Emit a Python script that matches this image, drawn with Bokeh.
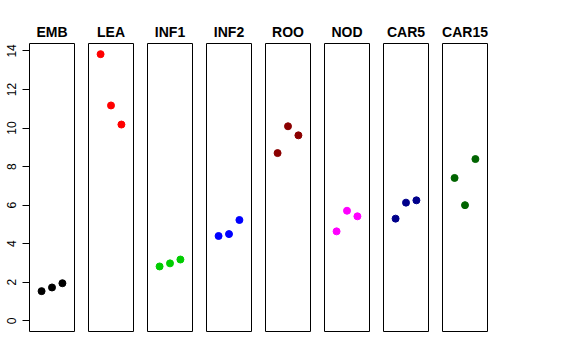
from bokeh.plotting import figure
from bokeh.layouts import row
from bokeh.models import Range1d, FixedTicker
from bokeh.embed import file_html
from bokeh.resources import INLINE

panels = ["EMB", "LEA", "INF1", "INF2", "ROO", "NOD", "CAR5", "CAR15"]
colors = ["#000000", "#FF0000", "#00CD00", "#0000FF", "#8B0000", "#FF00FF", "#00008B", "#006400"]
reps = [1, 2, 3]
emb = [1.54, 1.73, 1.95]
lea = [13.83, 11.17, 10.18]
inf1 = [2.82, 2.98, 3.18]
inf2 = [4.40, 4.50, 5.23]
roo = [8.70, 10.09, 9.62]
nod = [4.64, 5.71, 5.42]
car5 = [5.30, 6.13, 6.25]
car15 = [7.41, 6.00, 8.39]
values = [emb, lea, inf1, inf2, roo, nod, car5, car15]
y_ticks = [0, 2, 4, 6, 8, 10, 12, 14]

FONT = "Liberation Sans"
ymin, ymax = 0.0, max(max(v) for v in values)
ypad = 0.04 * (ymax - ymin)
xpad = 0.04 * 4
yr = Range1d(ymin - ypad, ymax + ypad)

figs = []
for i, (name, col, vals) in enumerate(zip(panels, colors, values)):
    first = i == 0
    p = figure(
        frame_width=45, frame_height=288,
        x_range=Range1d(0 - xpad, 4 + xpad), y_range=yr,
        output_backend="svg", toolbar_location=None,
        min_border_left=(29 if first else 7), min_border_right=7,
        min_border_top=43, min_border_bottom=10,
        title=name,
    )
    p.title.text_font = FONT
    p.title.text_font_size = "14px"
    p.title.text_font_style = "bold"
    p.title.text_color = "#000000"
    p.title.align = "center"
    p.title.standoff = 8
    p.title.offset = 0
    p.outline_line_color = "#000000"
    p.outline_line_width = 1
    p.outline_line_alpha = 1
    p.xgrid.visible = False
    p.ygrid.visible = False
    p.xaxis.visible = False
    if first:
        ax = p.yaxis[0]
        ax.ticker = FixedTicker(ticks=y_ticks)
        ax.axis_line_color = None
        ax.major_tick_in = 0
        ax.major_tick_out = 7
        ax.minor_tick_line_color = None
        ax.major_tick_line_color = "#000000"
        ax.major_label_orientation = "vertical"
        ax.major_label_standoff = 6
        ax.major_label_text_font = FONT
        ax.major_label_text_font_size = "12px"
        ax.major_label_text_color = "#000000"
    else:
        p.yaxis.visible = False
    p.scatter(reps, vals, size=7, fill_color=col, line_color=col)
    figs.append(p)

layout = row(*figs, spacing=0)
open("out.html", "w").write(file_html(layout, INLINE))
